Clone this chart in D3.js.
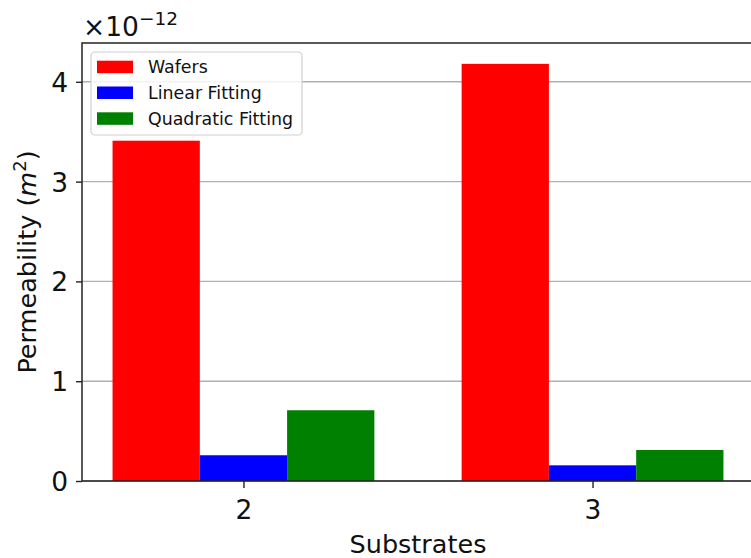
<!DOCTYPE html>
<html>
<head>
<meta charset="utf-8">
<script src="https://cdn.jsdelivr.net/npm/d3@7"></script>
<style>
  html, body { margin: 0; padding: 0; background: #fff; }
  svg { display: block; font-family: "DejaVu Sans", sans-serif; }
</style>
</head>
<body>
<svg id="chart" width="751" height="558"></svg>
<script>
// Permeability per substrate (units of 1e-12 m^2)
const categories = [2, 3];
const seriesNames = ["Wafers", "Linear Fitting", "Quadratic Fitting"];
const wafers = [3.41, 4.18];
const linearFitting = [0.258, 0.157];
const quadraticFitting = [0.709, 0.311];
const seriesColors = ["#ff0000", "#0000ff", "#008000"];
const yTicks = [0, 1, 2, 3, 4];
const xTicks = [2, 3];

const seriesValues = [wafers, linearFitting, quadraticFitting];
const barWidth = 0.25;
const offsets = [-0.25, 0, 0.25];

const svg = d3.select("#chart");
const plotLeft = 82, plotRight = 754, plotTop = 43, plotBottom = 481;

// x is numeric (substrate count); pad 5% of the bar span on each side
const xMin = d3.min(categories) - 0.375, xMax = d3.max(categories) + 0.375;
const xPad = (xMax - xMin) * 0.05;
const x = d3.scaleLinear().domain([xMin - xPad, xMax + xPad]).range([plotLeft, plotRight]);

const yMax = d3.max(seriesValues.flat()) * 1.05;
const y = d3.scaleLinear().domain([0, yMax]).range([plotBottom, plotTop]);

const fontSize = 26.5;

// grid lines
svg.append("g")
  .selectAll("line")
  .data(yTicks)
  .join("line")
  .attr("x1", plotLeft).attr("x2", plotRight)
  .attr("y1", d => y(d)).attr("y2", d => y(d))
  .attr("stroke", "#b0b0b0").attr("stroke-width", 1.4);

// bars
seriesValues.forEach((vals, si) => {
  svg.append("g")
    .selectAll("rect")
    .data(categories.map((c, i) => ({c, v: vals[i]})))
    .join("rect")
    .attr("x", d => x(d.c + offsets[si] - barWidth / 2))
    .attr("width", d => x(d.c + offsets[si] + barWidth / 2) - x(d.c + offsets[si] - barWidth / 2))
    .attr("y", d => y(d.v))
    .attr("height", d => y(0) - y(d.v))
    .attr("fill", seriesColors[si]);
});

// axes
const yAxis = d3.axisLeft(y).tickValues(yTicks).tickFormat(d3.format("d")).tickSize(6).tickPadding(8);
const gy = svg.append("g").attr("transform", `translate(${plotLeft},0)`).call(yAxis);
const xAxis = d3.axisBottom(x).tickValues(xTicks).tickFormat(d3.format("d")).tickSize(7).tickPadding(6);
const gx = svg.append("g").attr("transform", `translate(0,${plotBottom})`).call(xAxis);

[gx, gy].forEach(g => {
  g.select(".domain").remove();
  g.selectAll(".tick line").attr("stroke", "#222").attr("stroke-width", 1.4);
  g.selectAll(".tick text")
    .attr("fill", "#111")
    .style("font-family", "DejaVu Sans, sans-serif")
    .style("font-size", fontSize + "px");
});
gx.selectAll(".tick text").attr("dy", "0.93em");
gy.selectAll(".tick text").attr("dy", "0.36em");

// spines
svg.append("rect")
  .attr("x", plotLeft).attr("y", plotTop)
  .attr("width", plotRight - plotLeft).attr("height", plotBottom - plotTop)
  .attr("fill", "none").attr("stroke", "#222").attr("stroke-width", 1.5);

// offset (scale) text
const off = svg.append("text")
  .attr("x", 83).attr("y", 36)
  .attr("fill", "#111")
  .style("font-size", fontSize + "px");
off.append("tspan").text("\u00d710");
off.append("tspan").attr("dy", -11).style("font-size", "18.5px").text("\u221212");

// axis labels
svg.append("text")
  .attr("x", (plotLeft + plotRight) / 2).attr("y", 553)
  .attr("text-anchor", "middle")
  .attr("fill", "#111")
  .style("font-size", "25.5px")
  .text("Substrates");

const yl = svg.append("text")
  .attr("transform", `translate(36,${(plotTop + plotBottom) / 2}) rotate(-90)`)
  .attr("text-anchor", "middle")
  .attr("fill", "#111")
  .style("font-size", "25.5px");
yl.append("tspan").text("Permeability (");
yl.append("tspan").style("font-style", "italic").text("m");
yl.append("tspan").attr("dy", -10).style("font-size", "18px").text("2");
yl.append("tspan").attr("dy", 10).text(")");

// legend
const lg = svg.append("g");
lg.append("rect")
  .attr("x", 91).attr("y", 52)
  .attr("width", 211).attr("height", 83)
  .attr("rx", 4)
  .attr("fill", "#fff").attr("fill-opacity", 0.85)
  .attr("stroke", "#d0d0d0").attr("stroke-width", 1.2);
seriesNames.forEach((name, i) => {
  const cy = 66.7 + i * 25.8;
  lg.append("rect")
    .attr("x", 97).attr("y", cy - 6)
    .attr("width", 36).attr("height", 12.5)
    .attr("fill", seriesColors[i]);
  lg.append("text")
    .attr("x", 148).attr("y", cy)
    .attr("dy", "0.36em")
    .attr("fill", "#111")
    .style("font-size", "17.4px")
    .text(name);
});
</script>
</body>
</html>
